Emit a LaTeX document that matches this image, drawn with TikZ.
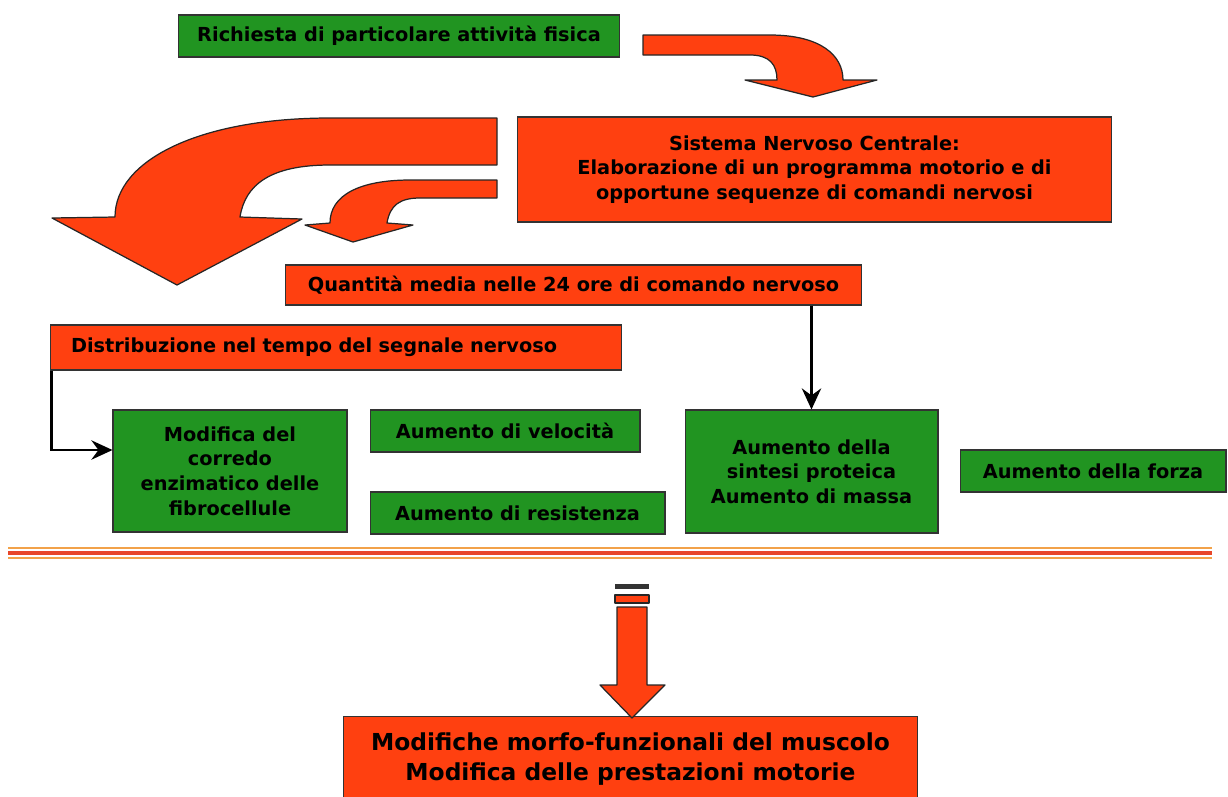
\documentclass[tikz,border=0pt]{standalone}
\usepackage{fontspec}
\setmainfont{DejaVu Sans}
\usetikzlibrary{arrows.meta,calc}
\definecolor{rd}{HTML}{FF4010}
\definecolor{gr}{HTML}{219421}
\definecolor{ln1}{HTML}{F2A24A}
\definecolor{ln2}{HTML}{E8462A}
\tikzset{
  box/.style={draw=black!80, line width=0.6pt, inner sep=2pt, align=center,
    font=\bfseries\fontsize{11}{14}\selectfont},
  rbox/.style={box, fill=rd},
  gbox/.style={box, fill=gr},
  fat/.style={fill=rd, draw=black!85, line width=0.7pt, line join=round},
  conn/.style={line width=1.5pt, -{Stealth[length=12pt,width=11pt,inset=4pt]}}
}
\begin{document}
\begin{tikzpicture}[x=0.02cm,y=-0.02cm]
\useasboundingbox (0,0) rectangle (1228,796);
% boxes
\node[gbox, minimum width=8.84cm, minimum height=0.84cm] (b1) at (399,36) {Richiesta di particolare attività fisica};
\node[rbox, minimum width=11.9cm, minimum height=2.1cm] (b2) at (814.5,169.5) {Sistema Nervoso Centrale:\\Elaborazione di un programma motorio e di\\opportune sequenze di comandi nervosi};
\node[rbox, minimum width=11.54cm, minimum height=0.8cm] (b3) at (573.5,285) {Quantità media nelle 24 ore di comando nervoso};
\node[rbox, minimum width=11.44cm, minimum height=0.9cm, text width=10.6cm, align=left] (b4) at (336,347.5) {Distribuzione nel tempo del segnale nervoso};
\node[gbox, minimum width=4.68cm, minimum height=2.44cm] (b5) at (230,471) {Modifica del\\corredo\\enzimatico delle\\fibrocellule};
\node[gbox, minimum width=5.4cm, minimum height=0.84cm] (b6) at (505,431) {Aumento di velocità};
\node[gbox, minimum width=5.9cm, minimum height=0.84cm] (b7) at (517.5,513) {Aumento di resistenza};
\node[gbox, minimum width=5.06cm, minimum height=2.46cm] (b8) at (811.5,471.5) {Aumento della\\sintesi proteica\\Aumento di massa};
\node[gbox, minimum width=5.32cm, minimum height=0.84cm] (b9) at (1093,471) {Aumento della forza};
\node[rbox, minimum width=11.5cm, minimum height=1.7cm, font=\bfseries\fontsize{13.3}{17}\selectfont] (b10) at (630.5,759) {Modifiche morfo-funzionali del muscolo\\Modifica delle prestazioni motorie};
% connectors
\draw[conn] (b3.south -| b8.north) -- (b8.north);
\draw[conn] ([xshift=0.04cm]b4.south west) |- ([yshift=0.42cm]b5.west);
% fat arrows
\draw[fat] (643,35) -- (770,35) .. controls (820,35) and (843,55) .. (843,80) -- (877,80) -- (813,97) -- (745,80) -- (777,80) .. controls (777,65) and (770,55) .. (750,55) -- (643,55) -- cycle;
\draw[fat] (497,118) -- (330,118) .. controls (200,118) and (115,160) .. (115,217) -- (52,218) -- (177,285) -- (302,219) -- (240,217) .. controls (245,185) and (270,165) .. (330,165) -- (497,165) -- cycle;
\draw[fat] (497,180) -- (410,180) .. controls (360,180) and (330,195) .. (330,223) -- (305,225) -- (353,242) -- (413,225) -- (387,223) .. controls (390,205) and (400,198) .. (420,198) -- (497,198) -- cycle;
% separator line
\draw[ln1, line width=1.5pt] (8,548) -- (1212,548);
\draw[ln2, line width=2.5pt] (8,553) -- (1212,553);
\draw[ln1, line width=1.5pt] (8,558) -- (1212,558);
% bottom arrow
\fill[black!80] (615,584) rectangle (649,589);
\draw[fat] (615,595) rectangle (649,603);
\draw[fat] (617,607) -- (647,607) -- (647,685) -- (665,685) -- (632,718) -- (600,685) -- (617,685) -- cycle;
\end{tikzpicture}
\end{document}
